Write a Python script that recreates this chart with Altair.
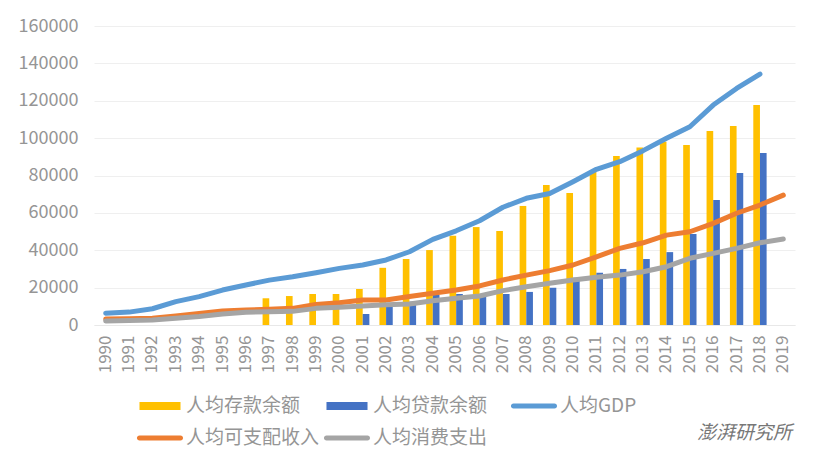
import altair as alt
import pandas as pd

years = [str(y) for y in range(1990, 2020)]

# 人均存款余额 1997-2018
deposit_years = years[7:29]
deposit = [14300, 15500, 16600, 16600, 19300, 30600, 35300, 40100, 47800, 52400, 50300,
           63700, 74900, 70600, 82000, 90400, 95000, 98000, 96300, 103800, 106500, 117700]
# 人均贷款余额 2001-2018
loan_years = years[11:29]
loan = [5900, 9800, 12500, 16000, 16600, 15200, 16600, 17700, 20000, 25300, 28000,
        30000, 35300, 39000, 48700, 66900, 81300, 92000]
# 人均GDP 1990-2018
gdp_years = years[:29]
gdp = [6300, 6900, 8700, 12500, 15200, 18700, 21400, 24000, 25800, 28000, 30300, 32100,
       34800, 39200, 45800, 50400, 55800, 63000, 67800, 70400, 76700, 83300, 87400, 93300,
       99900, 106100, 117700, 126600, 134300]
# 人均可支配收入 1990-2019
income = [3200, 3300, 3600, 4800, 6200, 7500, 8000, 8400, 8900, 11000, 11900, 13400, 13400,
          15200, 17000, 18700, 20900, 24100, 26700, 29100, 32100, 36500, 41000, 44000, 48100,
          49900, 54400, 59800, 64200, 69500]
# 人均消费支出 1990-2019
consumption = [2200, 2400, 2700, 3600, 4500, 5900, 6800, 7100, 7300, 8900, 9500, 10200, 10900,
               11200, 13000, 14300, 15500, 18400, 20500, 22300, 24100, 25500, 26700, 28500,
               31200, 35700, 38300, 41000, 44000, 46000]

S_DEP, S_LOAN, S_GDP, S_INC, S_CON = "人均存款余额", "人均贷款余额", "人均GDP", "人均可支配收入", "人均消费支出"
series = [S_DEP, S_LOAN, S_GDP, S_INC, S_CON]
colors = ["#FFC000", "#4472C4", "#5B9BD5", "#ED7D31", "#A5A5A5"]
watermark = "澎湃研究所"

FONT = "Noto Sans CJK SC"
GRAY = "#959595"

bar_shape = "M-1.71,-0.34H1.71V0.34H-1.71Z"
line_shape = "M-1.71,-0.21H1.71A0.21,0.21 0 0 1 1.71,0.21H-1.71A0.21,0.21 0 0 1 -1.71,-0.21Z"
shapes = [bar_shape, bar_shape, line_shape, line_shape, line_shape]

bar_df = pd.concat([
    pd.DataFrame({"year": deposit_years, "series": S_DEP, "value": deposit}),
    pd.DataFrame({"year": loan_years, "series": S_LOAN, "value": loan}),
])
line_dfs = [
    pd.DataFrame({"year": gdp_years, "series": S_GDP, "value": gdp}),
    pd.DataFrame({"year": years, "series": S_INC, "value": income}),
    pd.DataFrame({"year": years, "series": S_CON, "value": consumption}),
]

xscale = alt.Scale(domain=years, paddingInner=0.43, paddingOuter=0.215)
yscale = alt.Scale(domain=[0, 160000], nice=False)
color_scale = alt.Scale(domain=series, range=colors)
shape_scale = alt.Scale(domain=series, range=shapes)

xaxis = alt.Axis(title=None, labelAngle=270, labelFontSize=17, labelColor=GRAY, labelFont=FONT,
                 ticks=False, domain=True, domainColor="#E8E8E8", grid=False, labelPadding=10)
yaxis = alt.Axis(title=None, values=list(range(0, 160001, 20000)), labelFontSize=18,
                 labelColor=GRAY, labelFont=FONT, domain=False, ticks=False,
                 gridColor="#EFEFEF", labelPadding=16, format="d")

X = alt.X("year:O", scale=xscale, axis=xaxis)
Y = alt.Y("value:Q", scale=yscale, axis=yaxis)

legend = alt.Legend(title=None, orient="none", direction="horizontal", legendX=54, legendY=368,
                    columns=3, gridAlign="all", columnPadding=3, rowPadding=10, symbolSize=576,
                    labelOffset=14, labelFont=FONT, labelFontSize=19, labelColor=GRAY,
                    symbolStrokeWidth=0, symbolOpacity=1, padding=0, labelLimit=400)

legend_layer = alt.Chart(pd.DataFrame({"series": series})).mark_point(
    filled=True, opacity=0, size=576
).encode(
    x=alt.X("year:O", scale=xscale, axis=xaxis),
    color=alt.Color("series:N", scale=color_scale, legend=legend),
    shape=alt.Shape("series:N", scale=shape_scale, legend=legend),
)

bars = alt.Chart(bar_df).mark_bar().encode(
    x=X,
    xOffset=alt.XOffset("series:N", scale=alt.Scale(domain=[S_DEP, S_LOAN], paddingInner=0, paddingOuter=0)),
    y=Y,
    color=alt.Color("series:N", scale=color_scale, legend=None),
)

lines = [
    alt.Chart(df).mark_line(strokeWidth=5, strokeCap="round", strokeJoin="round").encode(
        x=X, y=Y, color=alt.Color("series:N", scale=color_scale, legend=None)
    )
    for df in line_dfs
]

wm = alt.Chart(pd.DataFrame({"t": [watermark]})).mark_text(
    align="left", baseline="middle", fontSize=19, fontStyle="italic", color="#777777", font=FONT
).encode(x=alt.value(603), y=alt.value(407), text="t:N")

chart = alt.layer(legend_layer, bars, *lines, wm).properties(
    width=701, height=299,
    autosize=alt.AutoSizeParams(type="none"),
    padding={"left": 86, "top": 18, "right": 18, "bottom": 135},
).configure_view(stroke=None)

chart.save("out.html", embed_options={"renderer": "svg", "actions": False})
